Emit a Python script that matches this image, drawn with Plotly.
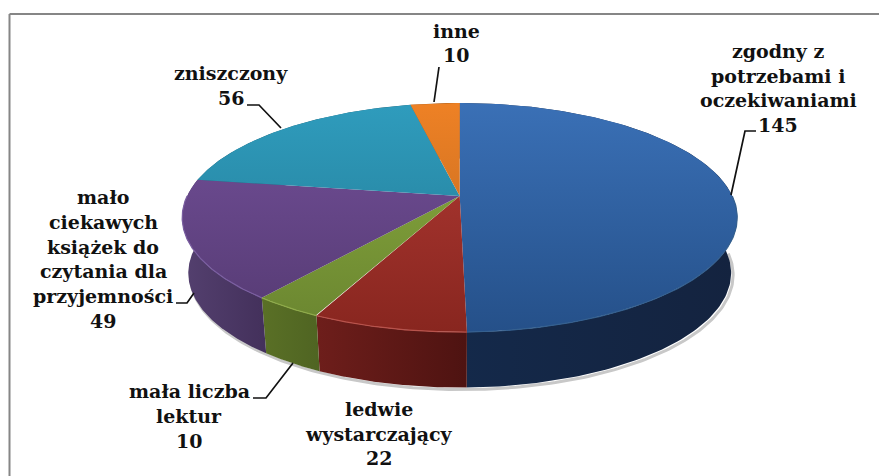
import numpy as np
import plotly.graph_objects as go

# ---- data -------------------------------------------------------------
categories = ["zgodny z potrzebami i oczekiwaniami", "ledwie wystarczający", "mała liczba lektur",
              "mało ciekawych książek do czytania dla przyjemności", "zniszczony", "inne"]
values = [145, 22, 10, 49, 56, 10]
top_colors = [("#3a70b6", "#255089"), ("#b23a35", "#88261f"), ("#8bad3f", "#6a8530"),
              ("#73509a", "#553a72"), ("#2f9cbd", "#227790"), ("#ee8125", "#b9661f")]
side_colors = [("#14294a", "#14233f"), ("#6e1e1b", "#4e1311"), ("#5a7026", "#4f6422"),
               ("#54406f", "#43305b"), ("#1d6075", "#1d6075"), ("#a05a1c", "#a05a1c")]
rim_colors = ["#35608f", "#b8534c", "#8fab4a", "#7a5ea0", "#2f9cbd", "#ee8125"]
label_lines = [["zgodny z", "potrzebami i", "oczekiwaniami", "145"], ["ledwie", "wystarczający", "22"],
               ["mała liczba", "lektur", "10"],
               ["mało", "ciekawych", "książek do", "czytania dla", "przyjemności", "49"],
               ["zniszczony", "56"], ["inne", "10"]]
label_centers = [778, 379, 189, 103, 231, 456]
label_tops = [51, 409, 391, 197, 73, 31]
label_steps = [24.7, 24.5, 25, 24.8, 25, 24]
leaders = [([756, 745, 731], [131, 131, 195]), ([], []), ([253, 266, 293], [398, 398, 363]),
           ([176, 187, 194], [303, 303, 293]), ([247, 259, 281], [105, 105, 128]), ([439, 434], [67, 102])]

# ---- projection of the tilted disc -------------------------------------
CX, CY, A, B, K = 459.7, 196, 272.6, 110.5, 0.188
DEPTH, SHRINK = 55.5, 0.978


def rim(t, low=False):
    u, v = np.sin(t), np.cos(t)
    w = 1 + K * v
    s = SHRINK if low else 1
    return CX + s * A * u / w, CY - B * v / w + (DEPTH if low else 0)


bounds = np.cumsum([0] + values) / sum(values) * 2 * np.pi
fig = go.Figure()


def grad(c0, c1, start, stop, typ="vertical"):
    return dict(type=typ, start=start, stop=stop, colorscale=[[0, c0], [1, c1]])


# soft shadow below the front rim
t = np.linspace(np.pi * 0.5, np.pi * 1.5, 200)
x, y = rim(t, True)
fig.add_trace(go.Scatter(x=x + 2, y=y + 2, mode="lines", line=dict(color="#c8c8c8", width=3),
                         hoverinfo="skip", showlegend=False))

# side walls
for i in range(len(values)):
    t = np.linspace(bounds[i], bounds[i + 1], 160)
    x0, y0 = rim(t)
    x1, y1 = rim(t, True)
    xs = np.r_[x0, x1[::-1], x0[0]]
    ys = np.r_[y0, y1[::-1], y0[0]]
    c0, c1 = side_colors[i]
    fig.add_trace(go.Scatter(x=xs, y=ys, mode="lines", line=dict(width=0), fill="toself",
                             fillgradient=grad(c0, c1, float(xs.min()), float(xs.max()), "horizontal"),
                             hoverinfo="skip", showlegend=False))

# top faces
for i in range(len(values)):
    t = np.linspace(bounds[i], bounds[i + 1], 240)
    x0, y0 = rim(t)
    xs = np.r_[CX, x0, CX]
    ys = np.r_[CY, y0, CY]
    c0, c1 = top_colors[i]
    fig.add_trace(go.Scatter(x=xs, y=ys, mode="lines", line=dict(width=0), fill="toself",
                             fillgradient=grad(c0, c1, 103, 332), name=categories[i],
                             text=str(values[i]), hoverinfo="text", showlegend=False))

# lighter bevel along the front of each top face
for i in range(len(values)):
    lo, hi = max(bounds[i], np.pi * 0.5), min(bounds[i + 1], np.pi * 1.5)
    if hi > lo:
        x0, y0 = rim(np.linspace(lo, hi, 120))
        fig.add_trace(go.Scatter(x=x0, y=y0, mode="lines", line=dict(color=rim_colors[i], width=1.2),
                                 hoverinfo="skip", showlegend=False))

# leader lines
for lx, ly in leaders:
    if lx:
        fig.add_trace(go.Scatter(x=lx, y=ly, mode="lines", line=dict(color="#111111", width=1.7),
                                 hoverinfo="skip", showlegend=False))

# labels
for lines, cx, top, step in zip(label_lines, label_centers, label_tops, label_steps):
    for j, line in enumerate(lines):
        fig.add_annotation(x=cx, y=top + j * step, text=f"<b>{line}</b>", showarrow=False,
                           xanchor="center", yanchor="middle",
                           font=dict(family="DejaVu Serif", size=19, color="#111111"))

# chart frame: only the top and left edges show
fig.add_shape(type="line", x0=9.5, x1=879, y0=14, y1=14, line=dict(color="#868686", width=2))
fig.add_shape(type="line", x0=9.5, x1=9.5, y0=14, y1=476, line=dict(color="#868686", width=2))

fig.update_layout(width=879, height=476, margin=dict(l=0, r=0, t=0, b=0),
                  paper_bgcolor="white", plot_bgcolor="white",
                  xaxis=dict(range=[0, 879], visible=False, fixedrange=True),
                  yaxis=dict(range=[476, 0], visible=False, fixedrange=True))
fig.write_html("out.html", config=dict(displayModeBar=False),
               post_script="document.body.style.margin='0';document.body.style.overflow='hidden';")
